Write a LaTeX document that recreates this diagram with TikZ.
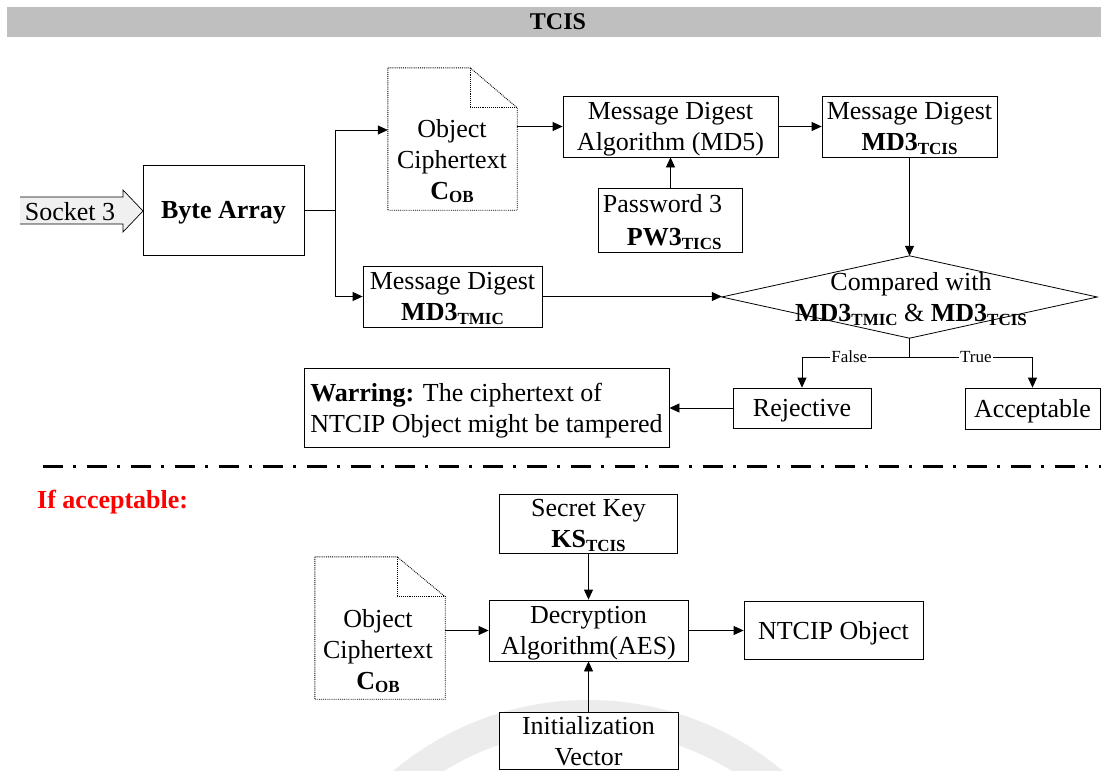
\documentclass[tikz,border=0pt]{standalone}
\usepackage{fontspec}
\setmainfont{Liberation Serif}
\usetikzlibrary{arrows.meta}

% lowered, smaller subscript used in the labels
\newcommand\lowsub[1]{\raisebox{-3.5pt}{\fontsize{17}{17}\selectfont #1}}

\tikzset{
  txt/.style={font=\fontsize{26}{31}\selectfont, align=center, inner sep=0pt, text depth=0pt},
  box/.style={txt, draw, fill=white, line width=0.8pt},
  docshape/.style={draw=none, inner sep=0pt},
  docline/.style={draw, fill=white, densely dotted, line width=0.9pt},
  arr/.style={-{Triangle[length=10pt,width=9pt]}, line width=0.8pt},
  conn/.style={line width=0.8pt},
  branchlbl/.style={font=\fontsize{17}{17}\selectfont, fill=white, inner sep=1pt},
}

\begin{document}
\begin{tikzpicture}[x=1pt, y=-1pt]
\useasboundingbox (0,0) rectangle (1101,771);

% faint seal in the background
\begin{scope}
  \clip (0,0) rectangle (1101,771);
  \fill[gray!15, even odd rule] (588,1003) circle [radius=303] (588,1003) circle [radius=273];
\end{scope}

% title bar
\fill[fill={rgb,255:red,191;green,191;blue,191}] (7,7) rectangle (1101,37);
\node[font=\fontsize{24}{24}\selectfont\bfseries, inner sep=0pt] (title) at (558,22) {TCIS};

% incoming socket arrow
\fill[fill={rgb,255:red,240;green,240;blue,240}] (20,197) -- (123,197) -- (123,190) -- (143,211) -- (123,232) -- (123,224) -- (20,224) -- cycle;
\draw[line width=0.7pt] (20,197) -- (123,197) -- (123,190) -- (143,211) -- (123,232) -- (123,224) -- (20,224);
\node[txt] (socket) at (70,211) {Socket 3};

% upper flow
\node[box, minimum width=161pt, minimum height=90pt] (bytes) at (223.5,210) {\textbf{Byte Array}};

\node[docshape, minimum width=129pt, minimum height=142pt] (doc1) at (452.5,139) {};
\draw[docline] (doc1.north west) -- ([xshift=-47pt]doc1.north east) -- ([yshift=-40pt]doc1.north east) -- (doc1.south east) -- (doc1.south west) -- cycle;
\draw[densely dotted, line width=0.9pt] ([xshift=-47pt]doc1.north east) |- ([yshift=-40pt]doc1.north east);
\node[txt] (doc1txt) at (452,159) {Object\\Ciphertext\\\textbf{C}\lowsub{\textbf{OB}}};

\node[box, minimum width=215pt, minimum height=61pt] (md5) at (670.5,126.5) {Message Digest\\Algorithm (MD5)};
\node[box, minimum width=144pt, minimum height=64pt, align=left,
      font=\fontsize{26}{33}\selectfont] (pw) at (670.5,220) {Password 3\hspace*{16pt}\\\hspace*{24pt}\textbf{PW3}\lowsub{\textbf{TICS}}};
\node[box, minimum width=175pt, minimum height=61pt] (tcis) at (909.5,126.5) {Message Digest\\\textbf{MD3}\lowsub{\textbf{TCIS}}};
\node[box, minimum width=179pt, minimum height=61pt] (tmic) at (452.5,296.5) {Message Digest\\\textbf{MD3}\lowsub{\textbf{TMIC}}};

% comparison diamond
\node[docshape, minimum width=375pt, minimum height=82pt] (cmp) at (909.5,297) {};
\draw[line width=0.8pt, fill=white] (cmp.west) -- (cmp.north) -- (cmp.east) -- (cmp.south) -- cycle;
\node[txt] (cmptxt) at (911,297) {Compared with\\\textbf{MD3}\lowsub{\textbf{TMIC}} \& \textbf{MD3}\lowsub{\textbf{TCIS}}};

\node[box, minimum width=138pt, minimum height=40pt] (rej) at (802,408) {Rejective};
\node[box, minimum width=135pt, minimum height=41pt] (acc) at (1032.5,408.5) {Acceptable};
\node[box, minimum width=365pt, minimum height=79pt, align=left] (warn) at (486.5,407.5)
  {\textbf{Warring:} The ciphertext of\\NTCIP Object might be tampered};

% upper connectors
\coordinate (j1) at (335,210);
\draw[conn] (bytes.east) -- (j1);
\draw[arr] (j1) |- ([yshift=9pt]doc1.west);
\draw[arr] (j1) |- (tmic.west);
\draw[arr] (md5.west -| doc1.east) -- (md5.west);
\draw[arr] (pw.north) -- (md5.south);
\draw[arr] (md5.east) -- (tcis.west);
\draw[arr] (tcis.south) -- (cmp.north);
\draw[arr] (tmic.east) -- (tmic.east -| cmp.west);
\coordinate (j2) at (909.5,357);
\draw[conn] (cmp.south) -- (j2);
\draw[arr] (j2) -| node[branchlbl, pos=0.28] (lblF) {False} (rej.north);
\draw[arr] (j2) -| node[branchlbl, pos=0.27] (lblT) {True} (acc.north);
\draw[arr] (rej.west) -- (rej.west -| warn.east);

% separator
\coordinate (sepL) at (43,466);
\coordinate (sepR) at (1101,466);
\draw[line width=3pt, dash pattern=on 20pt off 10pt on 3pt off 11pt] (sepL) -- (sepR);

\node[font=\fontsize{26}{26}\selectfont\bfseries, text={rgb,255:red,255;green,0;blue,0}, anchor=west, inner sep=0pt] (ifacc) at (37,502) {If acceptable:};

% lower flow
\node[box, minimum width=178pt, minimum height=59pt] (key) at (588.5,523.5) {Secret Key\\\textbf{KS}\lowsub{\textbf{TCIS}}};
\node[box, minimum width=199pt, minimum height=61pt] (dec) at (588.5,630.5) {Decryption\\Algorithm(AES)};
\node[box, minimum width=179pt, minimum height=57pt] (iv) at (588.5,740.5) {Initialization\\Vector};
\node[box, minimum width=179pt, minimum height=58pt] (ntcip) at (833.5,630.5) {NTCIP Object};

\node[docshape, minimum width=130pt, minimum height=142pt] (doc2) at (380,628) {};
\draw[docline] (doc2.north west) -- ([xshift=-48pt]doc2.north east) -- ([yshift=-40pt]doc2.north east) -- (doc2.south east) -- (doc2.south west) -- cycle;
\draw[densely dotted, line width=0.9pt] ([xshift=-48pt]doc2.north east) |- ([yshift=-40pt]doc2.north east);
\node[txt] (doc2txt) at (378,649) {Object\\Ciphertext\\\textbf{C}\lowsub{\textbf{OB}}};

\draw[arr] (key.south) -- (dec.north);
\draw[arr] (iv.north) -- (dec.south);
\draw[arr] (dec.west -| doc2.east) -- (dec.west);
\draw[arr] (dec.east) -- (ntcip.west);
\end{tikzpicture}
\end{document}
